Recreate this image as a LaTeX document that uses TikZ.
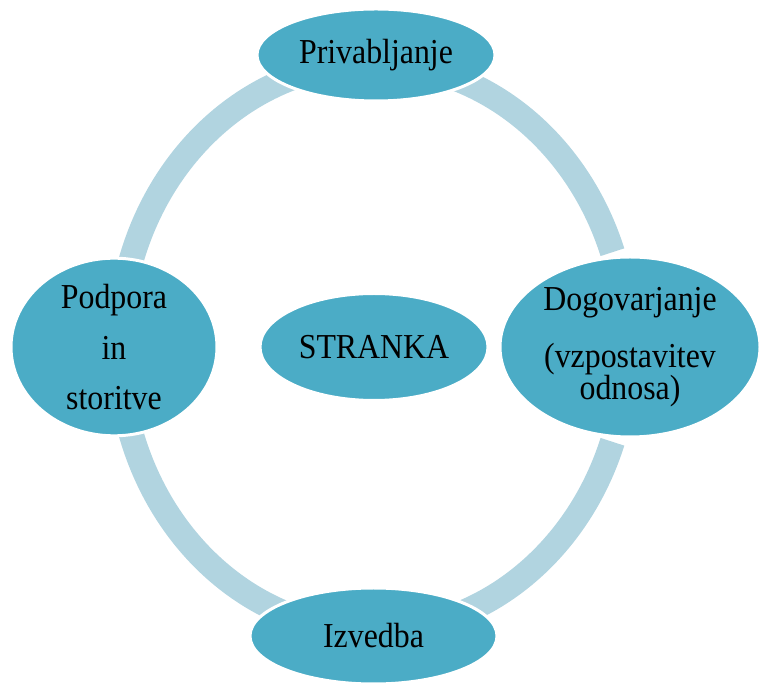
\documentclass[tikz,border=0pt]{standalone}
\usepackage{fontspec}
\setmainfont{Liberation Serif}[FakeStretch=0.91]
\usetikzlibrary{shapes.geometric}
\pgfdeclarelayer{background}
\pgfsetlayers{background,main}
\definecolor{nodefill}{HTML}{4BACC6}
\definecolor{ringcol}{HTML}{B1D4E0}
\begin{document}
\begin{tikzpicture}[x=1pt,y=1pt,
  cyc/.style={ellipse, fill=nodefill, draw=white, line width=3pt, inner sep=0pt,
    align=center, font=\fontsize{35}{39}\selectfont, text=black},
  ringarc/.style={draw=ringcol, line width=25pt}]
\useasboundingbox (0,0) rectangle (760,685);
\node[cyc, minimum width=238pt, minimum height=92pt] (top) at (376,630) {Privabljanje};
\node[cyc, minimum width=206pt, minimum height=160pt] (left) at (114,338) {Podpora\\[12pt]in\\[11pt]storitve};
\node[cyc, minimum width=260pt, minimum height=180pt] (right) at (630,338) {Dogovarjanje\\[18pt](vzpostavitev\\[-7pt]odnosa)};
\node[cyc, minimum width=228pt, minimum height=107pt] (center) at (374,338) {STRANKA};
\node[cyc, minimum width=247pt, minimum height=96pt] (bottom) at (373.5,49) {Izvedba};
\coordinate (ring) at (373,338);
\begin{pgfonlayer}{background}
\draw[ringarc] (ring) ++(19.5:254pt and 284pt) arc[start angle=19.5, end angle=75, x radius=254pt, y radius=284pt];
\draw[ringarc] (ring) ++(105:254pt and 284pt) arc[start angle=105, end angle=162.5, x radius=254pt, y radius=284pt];
\draw[ringarc] (ring) ++(197.5:254pt and 284pt) arc[start angle=197.5, end angle=255, x radius=254pt, y radius=284pt];
\draw[ringarc] (ring) ++(285:254pt and 284pt) arc[start angle=285, end angle=340.5, x radius=254pt, y radius=284pt];
\end{pgfonlayer}
\end{tikzpicture}
\end{document}
